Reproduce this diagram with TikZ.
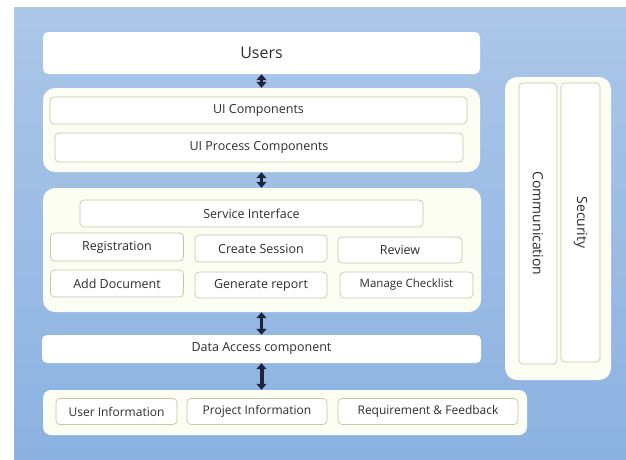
\documentclass[tikz,border=0pt]{standalone}
\usepackage{fontspec}
\setmainfont{Open Sans}
\usepackage{tikz}
\usetikzlibrary{arrows.meta,positioning}
\definecolor{bgtop}{HTML}{ABC7E8}
\definecolor{bgbot}{HTML}{8CB2E1}
\definecolor{cream}{HTML}{FCFDF3}
\definecolor{edge}{HTML}{C5C8A6}
\definecolor{navy}{HTML}{1B2440}
\definecolor{txt}{HTML}{2E2E2E}

\begin{document}
\begin{tikzpicture}[x=1pt,y=-1pt,
    grp/.style={rounded corners=12pt, fill=cream, inner sep=0pt},
    layer/.style={rounded corners=5pt, fill=white, inner sep=0pt, text=txt, font=\fontsize{12.5}{15}\selectfont},
    comp/.style={rounded corners=4pt, fill=white, draw=edge, line width=0.7pt, inner sep=0pt, text=txt, font=\fontsize{12.5}{15}\selectfont},
    side/.style={comp, rotate=-90, font=\fontsize{14}{16}\selectfont},
    link/.style={navy, line width=3.4pt, {Triangle[width=10pt,length=6pt]}-{Triangle[width=10pt,length=6pt]}}]
    \useasboundingbox (0,0) rectangle (626,459);
    % Backdrop
    \shade[top color=bgtop, bottom color=bgbot] (14,7) rectangle (626,459);

    % Users
    \node[layer, minimum width=437, minimum height=42, font=\fontsize{16}{18}\selectfont] (users) at (261.5,53) {Users};

    % Presentation layer
    \node[grp, minimum width=437, minimum height=84] (uigrp) at (261.5,130) {};
    \node[comp, minimum width=417, minimum height=27] (uicomp) at (258.5,110.5) {UI Components};
    \node[comp, minimum width=408, minimum height=29] (uiproc) at (259,147.5) {UI Process Components};

    % Service layer
    \node[grp, minimum width=438, minimum height=124] (svcgrp) at (262,250) {};
    \node[comp, minimum width=343, minimum height=27] (svcif) at (251.5,213.5) {Service Interface};
    \node[comp, minimum width=133, minimum height=28] (reg) at (117,247) {Registration};
    \node[comp, minimum width=132, minimum height=27] (sess) at (261,248.5) {Create Session};
    \node[comp, minimum width=124, minimum height=26] (review) at (400,250) {Review};
    \node[comp, minimum width=133, minimum height=27] (adddoc) at (117,283.5) {Add Document};
    \node[comp, minimum width=132, minimum height=26] (genrep) at (261,285) {Generate report};
    \node[comp, minimum width=133, minimum height=26, font=\fontsize{11.5}{14}\selectfont] (checklist) at (406.5,285) {Manage Checklist};

    % Data access
    \node[layer, minimum width=439, minimum height=28] (dal) at (261.5,349) {Data Access component};

    % Data sources
    \node[grp, rounded corners=8pt, minimum width=484, minimum height=45] (datagrp) at (285,412.5) {};
    \node[comp, minimum width=121, minimum height=26, font=\fontsize{12}{14}\selectfont] (userinfo) at (116.5,411.5) {User Information};
    \node[comp, minimum width=140, minimum height=26, font=\fontsize{12}{14}\selectfont] (projinfo) at (257,411.5) {Project Information};
    \node[comp, minimum width=180, minimum height=26, font=\fontsize{12}{14}\selectfont] (reqfb) at (428,411.5) {Requirement \& Feedback};

    % Cross-cutting concerns
    \node[grp, minimum width=106, minimum height=303] (crossgrp) at (558,228.5) {};
    \node[side, minimum width=281, minimum height=38] (comm) at (538,223.5) {Communication};
    \node[side, minimum width=279, minimum height=39] (sec) at (580.5,222.5) {Security};

    % Links between layers
    \draw[link] (users.south) -- (uigrp.north);
    \draw[link] (uigrp.south) -- (svcgrp.north -| uigrp.south);
    \draw[link] (svcgrp.south -| dal.north) -- (dal.north);
    \draw[link, line width=4pt] (dal.south) -- (datagrp.north -| dal.south);
\end{tikzpicture}
\end{document}
